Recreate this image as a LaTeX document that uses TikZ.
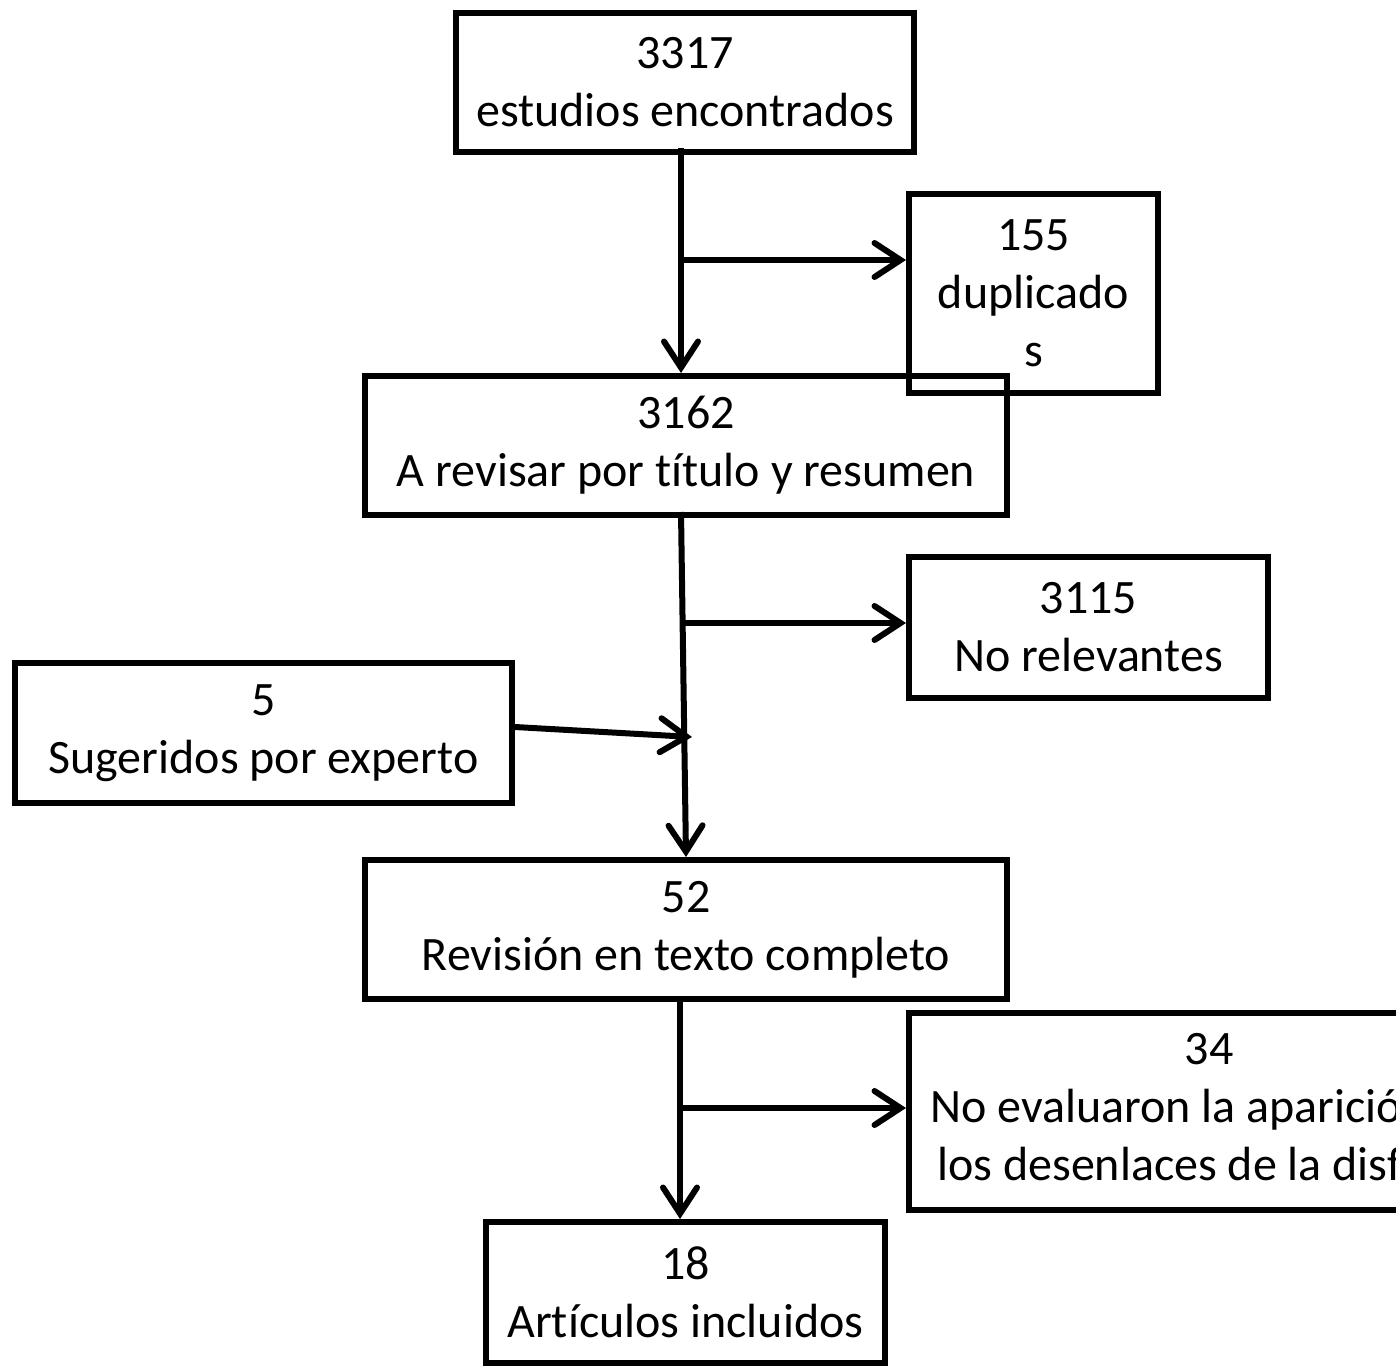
\documentclass[tikz,border=0pt]{standalone}
\usepackage{fontspec}
\setmainfont{Carlito}[Ligatures=NoCommon]
\usetikzlibrary{arrows.meta}
\begin{document}
\begin{tikzpicture}[x=1pt,y=-1pt,
  box/.style={draw,line width=6pt,rectangle,inner sep=0pt,align=center,
    font=\fontsize{48}{58}\selectfont},
  arr/.style={line width=6pt,-{Straight Barb[length=26pt,width=34pt,line cap=round]}}]
\useasboundingbox (0,0) rectangle (1396,1367);
\clip (0,0) rectangle (1396,1367);
\node[box,minimum width=458pt,minimum height=139pt] (n1) at (685,82.5) {3317\\estudios encontrados};
\node[box,minimum width=249pt,minimum height=199pt] (n2) at (1033.5,293.5) {155\\duplicado\\s};
\node[box,minimum width=642pt,minimum height=139pt] (n3) at (686,445.5) {3162\\A revisar por título y resumen};
\node[box,minimum width=359pt,minimum height=141pt] (n4) at (1088.5,627.5) {3115\\No relevantes};
\node[box,minimum width=497pt,minimum height=140pt] (n5) at (263.5,733) {5\\Sugeridos por experto};
\node[box,minimum width=642pt,minimum height=139pt] (n6) at (686,929.5) {52\\Revisión en texto completo};
\node[box,minimum width=600pt,minimum height=197pt] (n7) at (1209,1111.5) {34\\No evaluaron la aparición de\\los desenlaces de la disfagia};
\node[box,minimum width=399pt,minimum height=141pt] (n8) at (685.5,1292.5) {18\\Artículos incluidos};
% connectors
\coordinate (t1) at (681,148);
\draw[arr] (t1) -- (t1 |- n3.north);
\coordinate (b1) at (681,260);
\draw[arr] (b1) -- (b1 -| n2.west);
\coordinate (t2) at (681,512);
\draw[arr] (t2) -- (n6.north);
\coordinate (b2) at (683,623);
\draw[arr] (b2) -- (b2 -| n4.west);
\coordinate (j) at (692,737);
\draw[arr] ([yshift=6pt]n5.east) -- (j);
\coordinate (t3) at (680,996);
\draw[arr] (t3) -- (t3 |- n8.north);
\coordinate (b3) at (680,1108);
\draw[arr] (b3) -- (b3 -| n7.west);
\end{tikzpicture}
\end{document}
